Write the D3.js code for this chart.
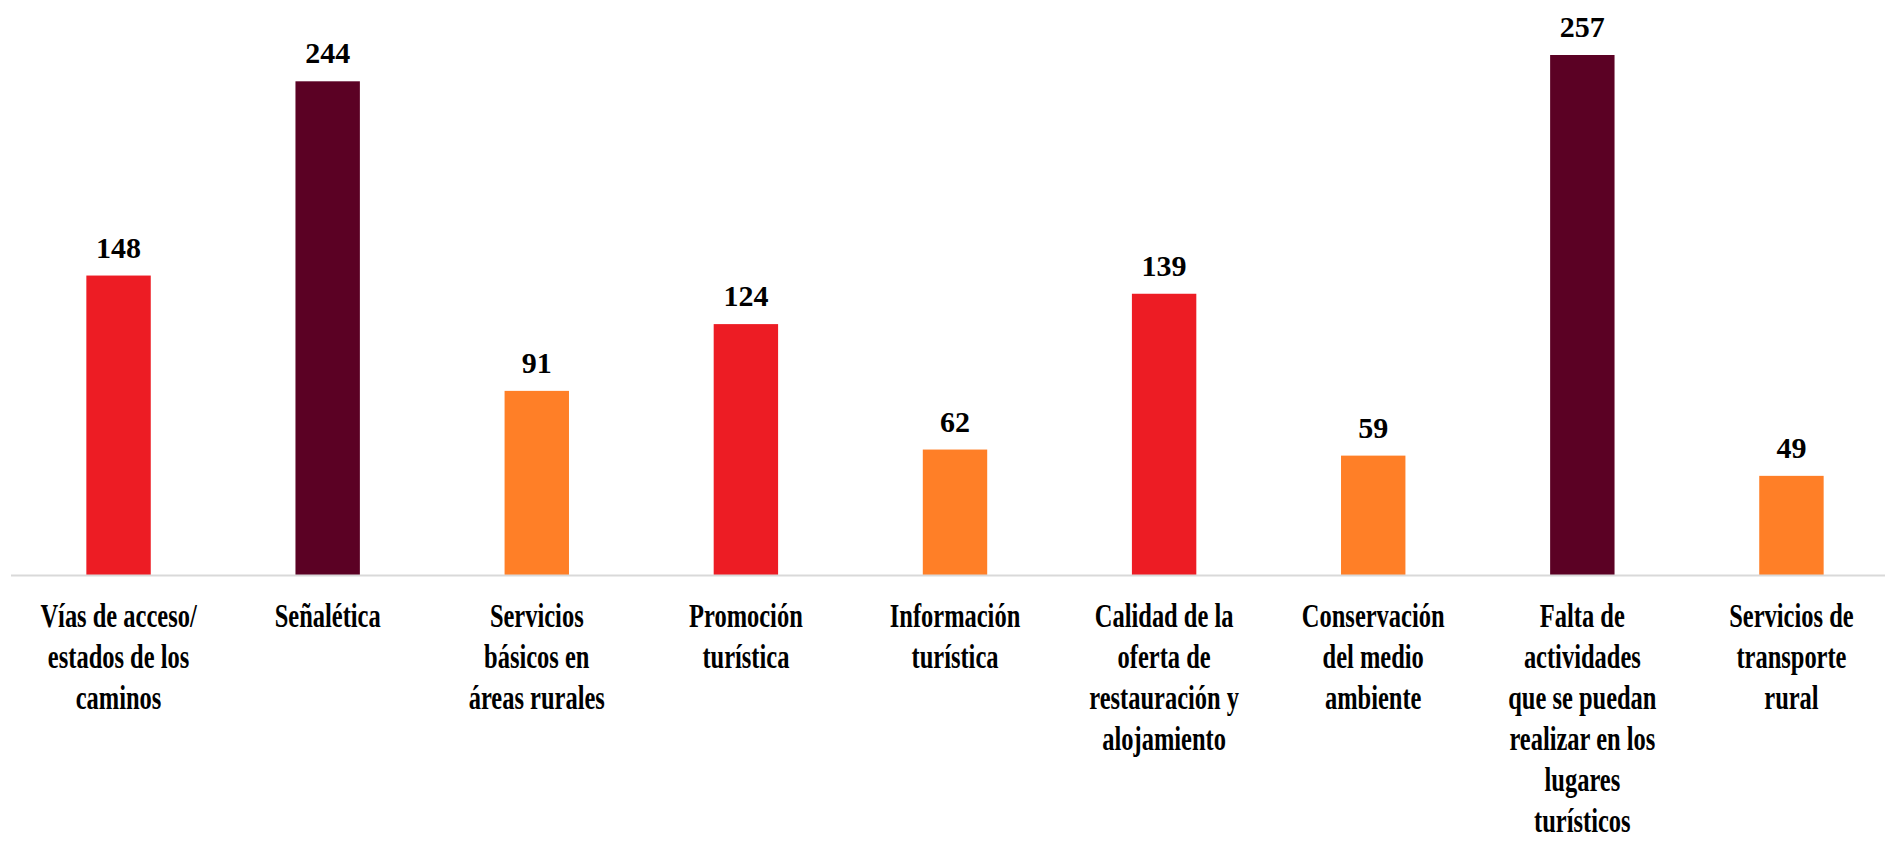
<!DOCTYPE html>
<html>
<head>
<meta charset="utf-8">
<script src="https://cdn.jsdelivr.net/npm/d3@7"></script>
<style>
  body { margin: 0; background: #fff; }
  svg { display: block; }
  .axis .domain { stroke: #d9d9d9; stroke-width: 2px; }
</style>
</head>
<body>
<div id="chart"></div>
<script>
// categories (line breaks as in the original labels)
const categories = [
    'Vías de acceso/\nestados de los\ncaminos',
    'Señalética',
    'Servicios\nbásicos en\náreas rurales',
    'Promoción\nturística',
    'Información\nturística',
    'Calidad de la\noferta de\nrestauración y\nalojamiento',
    'Conservación\ndel medio\nambiente',
    'Falta de\nactividades\nque se puedan\nrealizar en los\nlugares\nturísticos',
    'Servicios de\ntransporte\nrural'
];
const values = [148, 244, 91, 124, 62, 139, 59, 257, 49];

const width = 1885, height = 844;
const baseY = 575;

const svg = d3.select('#chart')
    .append('svg')
    .attr('width', width)
    .attr('height', height);

const xScale = d3.scaleBand()
    .domain(categories)
    .range([14, 1896])
    .paddingInner(0.692)
    .paddingOuter(0.346);

const yScale = d3.scaleLinear()
    .domain([0, 257])
    .range([baseY, 55]);

// colour by value band
const colour = d3.scaleThreshold()
    .domain([100, 200])
    .range(['#ff7f27', '#ed1c24', '#5b0124']);

const data = categories.map((c, i) => ({ cat: c, value: values[i] }));

// bars
svg.selectAll('.bar')
    .data(data)
    .enter()
    .append('rect')
    .attr('class', 'bar')
    .attr('x', d => xScale(d.cat))
    .attr('y', d => yScale(d.value))
    .attr('width', xScale.bandwidth())
    .attr('height', d => baseY - yScale(d.value))
    .attr('fill', d => colour(d.value));

// value labels
svg.selectAll('.value-label')
    .data(data)
    .enter()
    .append('text')
    .attr('class', 'value-label')
    .attr('x', d => xScale(d.cat) + xScale.bandwidth() / 2)
    .attr('y', d => yScale(d.value) - 18)
    .attr('text-anchor', 'middle')
    .attr('font-family', '"Liberation Serif", "Times New Roman", serif')
    .attr('font-weight', 'bold')
    .attr('font-size', '30px')
    .attr('fill', '#000')
    .text(d => d.value);

// x axis
const xAxisGroup = svg.append('g')
    .attr('class', 'axis x-axis')
    .attr('transform', `translate(0, ${baseY})`)
    .call(d3.axisBottom(xScale).tickSize(0).tickSizeOuter(0));

xAxisGroup.select('.domain').attr('d', `M11,0.5H${width}`);

xAxisGroup.selectAll('.tick text').remove();

xAxisGroup.selectAll('.tick').each(function (d) {
    const lines = d.split('\n');
    const t = d3.select(this).append('text')
        .attr('transform', 'translate(0, 52) scale(0.72, 1)')
        .attr('text-anchor', 'middle')
        .attr('font-family', '"Liberation Serif", "Times New Roman", serif')
        .attr('font-weight', 'bold')
        .attr('font-size', '34px')
        .attr('fill', '#000');
    lines.forEach((line, i) => {
        t.append('tspan')
            .attr('x', 0)
            .attr('y', i * 41)
            .text(line);
    });
});
</script>
</body>
</html>
